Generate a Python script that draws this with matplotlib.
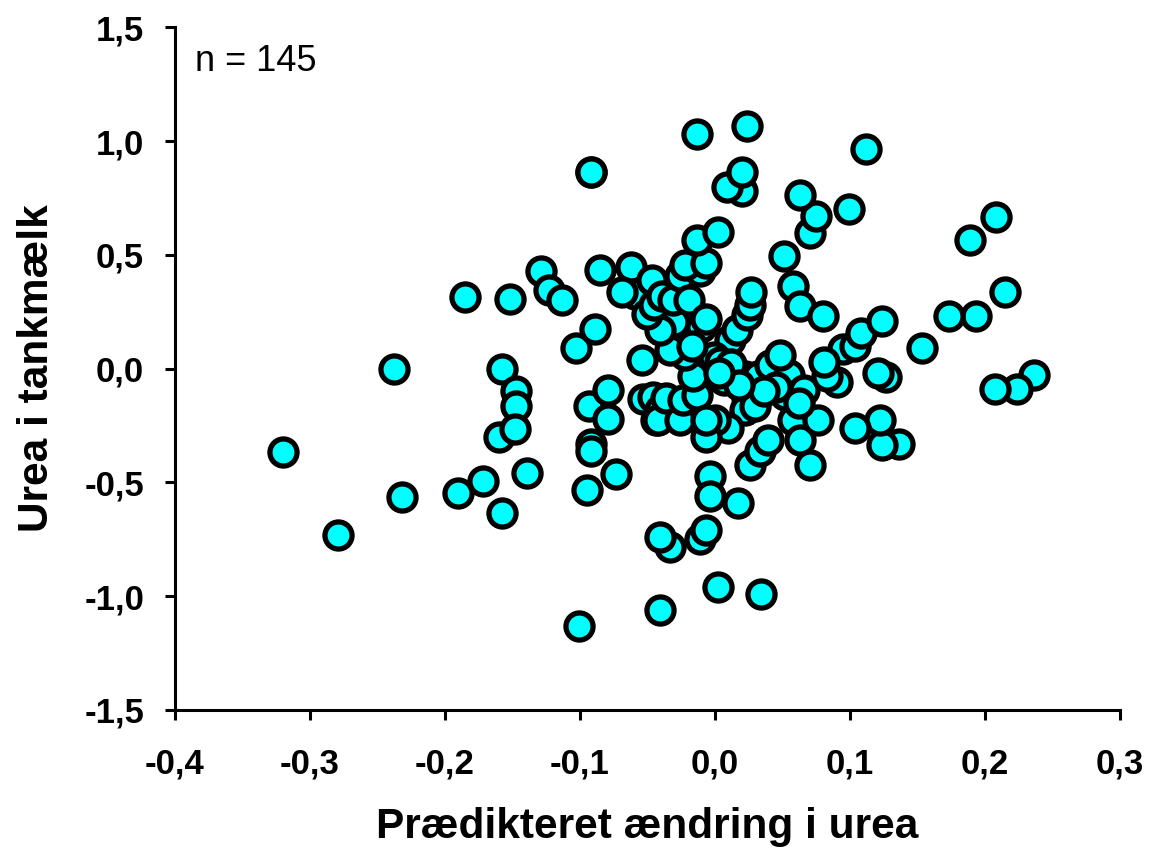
import matplotlib
matplotlib.use("Agg")
import matplotlib.pyplot as plt
from matplotlib.ticker import FuncFormatter

# Predicted change in urea (x) and urea in bulk tank milk (y)
x_pred = [
    -0.320, -0.279, -0.238, -0.232, -0.185, -0.190, -0.172, -0.152, -0.158, -0.158,
    -0.160, -0.147, -0.147, -0.148, -0.139, -0.129, -0.123, -0.113, -0.103, -0.101,
    -0.095, -0.092, -0.089, -0.093, -0.092, -0.092, -0.085, -0.079, -0.079, -0.073,
    -0.062, -0.059, -0.047, -0.069, -0.054, -0.053, -0.046, -0.044, -0.041, -0.042,
    -0.036, -0.026, -0.024, -0.013, -0.016, -0.022, -0.033, -0.030, -0.041, -0.050,
    -0.045, -0.039, -0.031, -0.026, -0.011, -0.022, -0.019, -0.010, -0.007, 0.011,
    0.016, 0.007, 0.022, 0.032, 0.024, 0.022, 0.010, 0.000, -0.007, -0.007,
    -0.001, 0.004, -0.004, -0.004, -0.011, -0.007, -0.033, -0.041, -0.041, 0.002,
    0.034, 0.017, 0.026, 0.033, 0.039, 0.030, 0.058, 0.041, 0.055, 0.052,
    0.063, 0.070, 0.076, 0.066, 0.024, 0.026, 0.027, 0.058, 0.063, 0.080,
    0.095, 0.090, 0.083, 0.081, 0.136, 0.124, 0.122, 0.104, 0.127, 0.121,
    0.104, 0.108, 0.124, 0.153, 0.236, 0.224, 0.207, 0.215, 0.193, 0.173,
    0.189, 0.208, -0.007, 0.051, -0.013, 0.002, 0.070, 0.075, 0.099, 0.063,
    0.020, 0.009, 0.020, 0.112, -0.013, 0.024, -0.092, 0.045, 0.012, 0.036,
    0.048, 0.018, -0.017, 0.003, 0.062,
]
y_urea = [
    -0.365, -0.730, 0.000, -0.565, 0.315, -0.545, -0.495, 0.305, 0.000, -0.635,
    -0.300, -0.100, -0.165, -0.265, -0.460, 0.430, 0.345, 0.300, 0.090, -1.130,
    -0.535, 0.865, 0.175, -0.165, -0.330, -0.360, 0.435, -0.095, -0.220, -0.465,
    0.445, 0.330, 0.390, 0.335, 0.038, -0.135, -0.125, -0.225, -0.180, -0.225,
    -0.130, -0.225, -0.140, -0.117, -0.033, 0.060, 0.080, 0.205, 0.170, 0.240,
    0.280, 0.320, 0.300, 0.405, 0.430, 0.455, 0.300, 0.185, 0.220, 0.125,
    0.170, -0.050, -0.033, -0.033, -0.130, -0.180, -0.260, -0.225, -0.300, -0.225,
    0.050, 0.030, -0.470, -0.560, -0.750, -0.710, -0.785, -0.740, -1.060, -0.960,
    -0.990, -0.590, -0.425, -0.360, -0.315, -0.165, -0.225, 0.015, -0.028, -0.115,
    -0.315, -0.425, -0.225, -0.095, 0.235, 0.280, 0.335, 0.365, 0.275, 0.230,
    0.085, -0.060, -0.033, 0.030, -0.330, -0.335, -0.225, -0.260, -0.035, -0.020,
    0.100, 0.155, 0.210, 0.090, -0.030, -0.090, -0.090, 0.335, 0.230, 0.230,
    0.565, 0.665, 0.465, 0.495, 0.565, 0.600, 0.595, 0.670, 0.700, 0.765,
    0.780, 0.800, 0.865, 0.965, 1.030, 1.065, 0.865, -0.080, 0.020, -0.100,
    0.060, -0.070, 0.100, -0.020, -0.150,
]

fig = plt.figure(figsize=(11.5, 8.51), dpi=100)
ax = fig.add_axes([0.152, 0.1657, 0.822, 0.8023])

ax.plot(x_pred, y_urea, linestyle="none", marker="o", markersize=19.5,
        markerfacecolor="#00FFFF", markeredgecolor="black", markeredgewidth=3.8,
        clip_on=False)

ax.set_xlim(-0.4, 0.3)
ax.set_ylim(-1.5, 1.5)
ax.set_xticks([-0.4, -0.3, -0.2, -0.1, 0.0, 0.1, 0.2, 0.3])
ax.set_yticks([-1.5, -1.0, -0.5, 0.0, 0.5, 1.0, 1.5])

# komma som decimaltegn
fmt = FuncFormatter(lambda v, p: f"{v:.1f}".replace(".", ",").replace("-0,0", "0,0"))
ax.xaxis.set_major_formatter(fmt)
ax.yaxis.set_major_formatter(fmt)

for s in ["top", "right"]:
    ax.spines[s].set_visible(False)
for s in ["left", "bottom"]:
    ax.spines[s].set_linewidth(2.2)

ax.tick_params(axis="both", direction="out", length=7, width=2.2)
ax.tick_params(axis="x", pad=20)
ax.tick_params(axis="y", pad=15)
for lbl in ax.get_xticklabels() + ax.get_yticklabels():
    lbl.set_fontfamily("Liberation Sans")
    lbl.set_fontweight("bold")
    lbl.set_fontsize(25)

ax.set_xlabel("Prædikteret ændring i urea", fontfamily="Liberation Sans",
              fontweight="bold", fontsize=30.5, labelpad=19)
ax.set_ylabel("Urea i tankmælk", fontfamily="Liberation Sans",
              fontweight="bold", fontsize=30.5, labelpad=20)

ax.text(0.021, 0.975, "n = 145", transform=ax.transAxes, ha="left", va="top",
        fontfamily="Liberation Sans", fontsize=26)

fig.savefig("out.png", dpi=100, facecolor="white")
